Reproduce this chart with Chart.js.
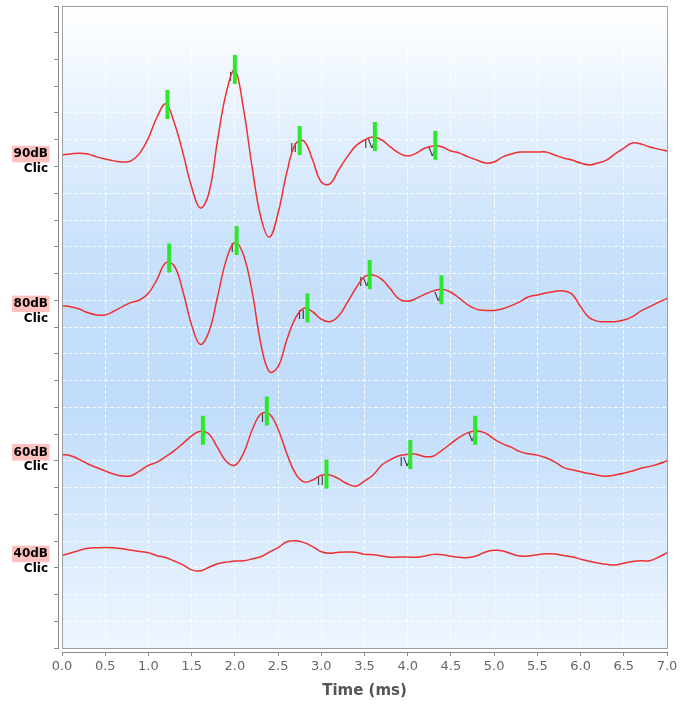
<!DOCTYPE html>
<html>
<head>
<meta charset="utf-8">
<script src="https://cdn.jsdelivr.net/npm/chart.js@4.4.1/dist/chart.umd.min.js"></script>
<style>
  html, body { margin: 0; padding: 0; background: #fff; overflow: hidden; }
  canvas { display: block; }
</style>
</head>
<body>
<canvas id="abrChart" width="681" height="708"></canvas>
<script>
// time axis (ms), one sample every 0.1 ms
const times = [0.0, 0.1, 0.2, 0.3, 0.4, 0.5, 0.6, 0.7, 0.8, 0.9,
  1.0, 1.1, 1.2, 1.3, 1.4, 1.5, 1.6, 1.7, 1.8, 1.9,
  2.0, 2.1, 2.2, 2.3, 2.4, 2.5, 2.6, 2.7, 2.8, 2.9,
  3.0, 3.1, 3.2, 3.3, 3.4, 3.5, 3.6, 3.7, 3.8, 3.9,
  4.0, 4.1, 4.2, 4.3, 4.4, 4.5, 4.6, 4.7, 4.8, 4.9,
  5.0, 5.1, 5.2, 5.3, 5.4, 5.5, 5.6, 5.7, 5.8, 5.9,
  6.0, 6.1, 6.2, 6.3, 6.4, 6.5, 6.6, 6.7, 6.8, 6.9,
  7.0];
const xTicks = [0.0, 0.5, 1.0, 1.5, 2.0, 2.5, 3.0, 3.5, 4.0, 4.5, 5.0, 5.5, 6.0, 6.5, 7.0];

const levels = ["90dB", "80dB", "60dB", "40dB"];
const stimulus = "Clic";
// vertical offset of each trace (grid divisions)
const offsets = [18.4, 12.8, 7.25, 3.45];

// amplitudes (grid divisions) relative to each trace offset
const amp90 = [0.03, 0.07, 0.10, 0.07, -0.04, -0.12, -0.19, -0.23, -0.19, 0.10,
  0.67, 1.45, 1.94, 1.23, 0.10, -1.17, -1.95, -1.39, 0.59, 2.35,
  3.21, 1.75, -0.42, -2.29, -3.04, -2.14, -0.64, 0.44, 0.55, -0.16,
  -0.98, -1.05, -0.53, -0.04, 0.37, 0.59, 0.70, 0.59, 0.33, 0.10,
  -0.01, 0.10, 0.29, 0.37, 0.33, 0.18, 0.10, -0.04, -0.16, -0.27,
  -0.23, -0.04, 0.07, 0.14, 0.14, 0.14, 0.14, 0.03, -0.08, -0.16,
  -0.27, -0.34, -0.27, -0.16, 0.07, 0.29, 0.48, 0.44, 0.33, 0.25,
  0.18];
const amp80 = [-0.01, -0.04, -0.13, -0.27, -0.35, -0.35, -0.21, -0.04, 0.12, 0.21,
  0.46, 0.98, 1.60, 1.48, 0.52, -0.73, -1.45, -0.98, 0.33, 1.70,
  2.37, 1.89, 0.52, -1.41, -2.47, -2.28, -1.29, -0.47, -0.10, -0.23,
  -0.51, -0.60, -0.39, 0.11, 0.65, 1.08, 1.14, 0.98, 0.62, 0.24,
  0.16, 0.27, 0.43, 0.55, 0.61, 0.50, 0.27, 0.02, -0.14, -0.18,
  -0.18, -0.12, 0.00, 0.15, 0.33, 0.40, 0.47, 0.53, 0.55, 0.43,
  -0.04, -0.45, -0.59, -0.60, -0.60, -0.54, -0.41, -0.20, -0.04, 0.12,
  0.27];
const amp60 = [-0.02, -0.06, -0.20, -0.37, -0.50, -0.63, -0.75, -0.82, -0.81, -0.63,
  -0.42, -0.30, -0.10, 0.13, 0.40, 0.68, 0.85, 0.75, 0.24, -0.27,
  -0.42, 0.03, 0.90, 1.50, 1.50, 0.93, 0.03, -0.72, -1.04, -0.97,
  -0.79, -0.78, -0.92, -1.11, -1.20, -1.01, -0.78, -0.41, -0.21, -0.06,
  -0.01, -0.01, -0.10, -0.07, 0.15, 0.39, 0.63, 0.80, 0.87, 0.78,
  0.56, 0.38, 0.25, 0.09, 0.01, -0.04, -0.14, -0.29, -0.50, -0.59,
  -0.66, -0.73, -0.79, -0.83, -0.78, -0.72, -0.63, -0.53, -0.46, -0.37,
  -0.25];
const amp40 = [0.01, 0.10, 0.20, 0.28, 0.30, 0.31, 0.30, 0.26, 0.20, 0.16,
  0.11, 0.00, -0.07, -0.20, -0.34, -0.53, -0.57, -0.43, -0.30, -0.24,
  -0.20, -0.19, -0.12, -0.04, 0.14, 0.30, 0.52, 0.56, 0.49, 0.34,
  0.15, 0.09, 0.13, 0.14, 0.13, 0.05, 0.04, -0.01, -0.06, -0.05,
  -0.05, -0.06, -0.01, 0.05, 0.04, -0.02, -0.06, -0.07, 0.00, 0.14,
  0.20, 0.18, 0.07, -0.01, -0.01, 0.04, 0.07, 0.06, 0.01, -0.04,
  -0.13, -0.21, -0.27, -0.32, -0.35, -0.28, -0.22, -0.19, -0.19, -0.06,
  0.11];
const amps = [amp90, amp80, amp60, amp40];

// marked waves (latency ms, amplitude)
const waveNames = ["I", "II", "III", "IV", "V"];
const peakLat90 = [1.22, 2.00, 2.75, 3.62, 4.32];
const peakAmp90 = [1.92, 3.23, 0.57, 0.72, 0.39];
const peakLat80 = [1.24, 2.02, 2.84, 3.56, 4.39];
const peakAmp80 = [1.78, 2.43, -0.09, 1.16, 0.59];
const peakLat60 = [1.63, 2.37, 3.06, 4.03, 4.78];
const peakAmp60 = [0.89, 1.61, -0.75, -0.02, 0.89];
const peakLats = [peakLat90, peakLat80, peakLat60];
const peakAmps = [peakAmp90, peakAmp80, peakAmp60];

const FONT = "'DejaVu Sans', Verdana, sans-serif";
const traceColor = "#ee3030";
const markColor = "#2ce82c";

const datasets = [];
peakLats.forEach(function (lats, k) {
  datasets.push({
    label: levels[k] + " waves",
    data: lats.map((t, i) => ({ x: t, y: offsets[k] + peakAmps[k][i] })),
    showLine: false,
    pointStyle: "line",
    rotation: 90,
    pointRadius: 14.5,
    pointHoverRadius: 14.5,
    pointBorderWidth: 4,
    pointBorderColor: markColor,
    borderColor: markColor,
    order: 0
  });
});
amps.forEach(function (a, k) {
  datasets.push({
    label: levels[k],
    data: times.map((t, i) => ({ x: t, y: offsets[k] + a[i] })),
    borderColor: traceColor,
    borderWidth: 1.5,
    pointRadius: 0,
    tension: 0.4,
    fill: false,
    order: 1
  });
});

const decor = {
  id: "decor",
  beforeDraw(chart) {
    const { ctx, chartArea: a } = chart;
    ctx.save();
    ctx.fillStyle = "#ffffff";
    ctx.fillRect(0, 0, chart.width, chart.height);
    const g = ctx.createLinearGradient(0, a.top, 0, a.bottom);
    g.addColorStop(0, "#ffffff");
    g.addColorStop(0.38, "#c8e1fb");
    g.addColorStop(0.62, "#c0dcfa");
    g.addColorStop(1, "#eef6ff");
    ctx.fillStyle = g;
    ctx.fillRect(a.left, a.top, a.right - a.left, a.bottom - a.top);
    ctx.restore();
  },
  beforeDatasetsDraw(chart) {
    const { ctx } = chart;
    const xs = chart.scales.x, ys = chart.scales.y;
    ctx.save();
    ctx.font = "12px " + FONT;
    ctx.fillStyle = "#444";
    ctx.textAlign = "right";
    ctx.textBaseline = "middle";
    peakLats.forEach(function (lats, k) {
      lats.forEach(function (t, i) {
        const px = xs.getPixelForValue(t);
        const py = ys.getPixelForValue(offsets[k] + peakAmps[k][i]);
        ctx.fillText(waveNames[i], px + 1, py + 8);
      });
    });
    ctx.restore();
  },
  afterDraw(chart) {
    const { ctx, chartArea: a } = chart;
    const ys = chart.scales.y;
    ctx.save();
    // gap between axis lines and plot outline
    ctx.fillStyle = "#ffffff";
    ctx.fillRect(a.left - 3, a.top, 3, a.bottom - a.top + 1);
    ctx.fillRect(a.left - 4, a.bottom + 1, a.right - a.left + 5, 3);
    // axis lines
    ctx.strokeStyle = "#8a8a8a";
    ctx.lineWidth = 1;
    ctx.beginPath();
    ctx.moveTo(a.left - 3.5, a.top);
    ctx.lineTo(a.left - 3.5, a.bottom + 1);
    ctx.moveTo(a.left, a.bottom + 4.5);
    ctx.lineTo(a.right + 1, a.bottom + 4.5);
    ctx.stroke();
    // plot outline
    ctx.strokeStyle = "#a0a0a0";
    ctx.strokeRect(a.left + 0.5, a.top + 0.5, a.right - a.left, a.bottom - a.top);
    // level labels
    ctx.textAlign = "right";
    ctx.textBaseline = "middle";
    ctx.font = "bold 12px " + FONT;
    levels.forEach(function (lv, k) {
      const y = ys.getPixelForValue(offsets[k]);
      const w = ctx.measureText(lv).width;
      ctx.fillStyle = "#ffc0c0";
      ctx.fillRect(48 - w - 1.5, y - 10, w + 3, 16.5);
      ctx.fillStyle = "#000";
      ctx.fillText(lv, 48, y - 1.5);
      ctx.fillText(stimulus, 48, y + 13);
    });
    ctx.restore();
  }
};

const gridOpts = {
  color: "rgba(255,255,255,0.8)",
  lineWidth: 1,
  drawTicks: true,
  tickColor: "#8a8a8a",
  tickBorderDash: [],
  tickLength: 8
};

new Chart(document.getElementById("abrChart"), {
  type: "line",
  data: { datasets: datasets },
  options: {
    responsive: false,
    devicePixelRatio: 1,
    animation: false,
    events: [],
    layout: { autoPadding: false, padding: { top: 6, right: 14, bottom: 0, left: 0 } },
    plugins: {
      legend: { display: false },
      tooltip: { enabled: false }
    },
    scales: {
      x: {
        type: "linear",
        min: 0,
        max: 7,
        afterBuildTicks: function (s) { s.ticks = xTicks.map(v => ({ value: v })); },
        afterFit: function (s) {
          s.height = 60;
          s.paddingLeft = 0;
          s.paddingRight = 0;
        },
        grid: gridOpts,
        border: { display: false, dash: [4, 2] },
        ticks: {
          color: "#666",
          font: { family: FONT, size: 13 },
          padding: 3,
          maxRotation: 0,
          autoSkip: false,
          callback: v => Number(v).toFixed(1)
        },
        title: {
          display: true,
          text: "Time (ms)",
          color: "#555",
          font: { family: FONT, size: 15, weight: "bold" },
          padding: { top: 0, bottom: 8 }
        }
      },
      y: {
        type: "linear",
        min: 0,
        max: 24,
        afterFit: function (s) {
          s.width = 62;
          s.paddingTop = 0;
          s.paddingBottom = 0;
        },
        grid: gridOpts,
        border: { display: false, dash: [4, 2] },
        ticks: { display: false, stepSize: 1, autoSkip: false }
      }
    }
  },
  plugins: [decor]
});
</script>
</body>
</html>
